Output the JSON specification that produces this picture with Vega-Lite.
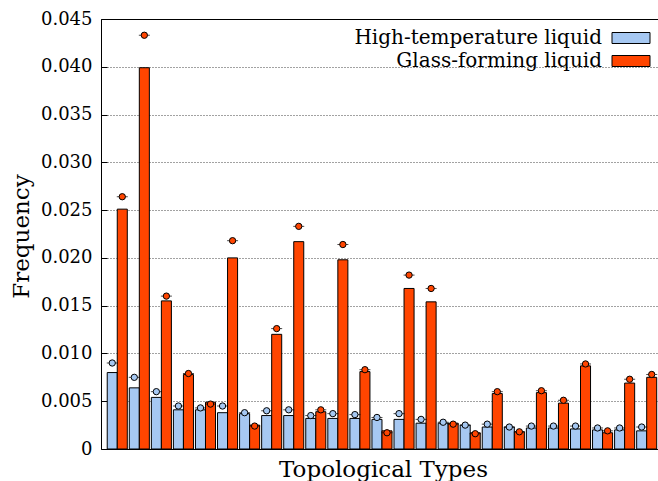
{
  "$schema": "https://vega.github.io/schema/vega-lite/v6.json",
  "width": 557,
  "height": 430,
  "autosize": "none",
  "padding": {"left": 101, "top": 19, "right": 0, "bottom": 32},
  "background": "white",
  "config": {
    "font": "DejaVu Serif",
    "view": {"stroke": null},
    "axis": {"labelFont": "DejaVu Serif", "titleFont": "DejaVu Serif", "titleFontWeight": "normal", "domainColor": "black", "tickColor": "black", "labelColor": "black", "titleColor": "black"},
    "legend": {"labelFont": "DejaVu Serif"}
  },
  "data": {
    "values": [
      {"type": 1, "series": "High-temperature liquid", "freq": 0.0080, "ref": 0.0090},
      {"type": 1, "series": "Glass-forming liquid", "freq": 0.0251, "ref": 0.0264},
      {"type": 2, "series": "High-temperature liquid", "freq": 0.0064, "ref": 0.0075},
      {"type": 2, "series": "Glass-forming liquid", "freq": 0.0399, "ref": 0.0433},
      {"type": 3, "series": "High-temperature liquid", "freq": 0.0054, "ref": 0.0060},
      {"type": 3, "series": "Glass-forming liquid", "freq": 0.0155, "ref": 0.0160},
      {"type": 4, "series": "High-temperature liquid", "freq": 0.0041, "ref": 0.0045},
      {"type": 4, "series": "Glass-forming liquid", "freq": 0.0078, "ref": 0.0079},
      {"type": 5, "series": "High-temperature liquid", "freq": 0.0041, "ref": 0.0043},
      {"type": 5, "series": "Glass-forming liquid", "freq": 0.0049, "ref": 0.0047},
      {"type": 6, "series": "High-temperature liquid", "freq": 0.0038, "ref": 0.0045},
      {"type": 6, "series": "Glass-forming liquid", "freq": 0.0200, "ref": 0.0218},
      {"type": 7, "series": "High-temperature liquid", "freq": 0.0037, "ref": 0.0038},
      {"type": 7, "series": "Glass-forming liquid", "freq": 0.0025, "ref": 0.0024},
      {"type": 8, "series": "High-temperature liquid", "freq": 0.0035, "ref": 0.0040},
      {"type": 8, "series": "Glass-forming liquid", "freq": 0.0120, "ref": 0.0126},
      {"type": 9, "series": "High-temperature liquid", "freq": 0.0035, "ref": 0.0041},
      {"type": 9, "series": "Glass-forming liquid", "freq": 0.0217, "ref": 0.0233},
      {"type": 10, "series": "High-temperature liquid", "freq": 0.0032, "ref": 0.0035},
      {"type": 10, "series": "Glass-forming liquid", "freq": 0.0039, "ref": 0.0041},
      {"type": 11, "series": "High-temperature liquid", "freq": 0.0032, "ref": 0.0037},
      {"type": 11, "series": "Glass-forming liquid", "freq": 0.0198, "ref": 0.0214},
      {"type": 12, "series": "High-temperature liquid", "freq": 0.0032, "ref": 0.0036},
      {"type": 12, "series": "Glass-forming liquid", "freq": 0.0081, "ref": 0.0083},
      {"type": 13, "series": "High-temperature liquid", "freq": 0.0031, "ref": 0.0033},
      {"type": 13, "series": "Glass-forming liquid", "freq": 0.0019, "ref": 0.0017},
      {"type": 14, "series": "High-temperature liquid", "freq": 0.0031, "ref": 0.0037},
      {"type": 14, "series": "Glass-forming liquid", "freq": 0.0168, "ref": 0.0182},
      {"type": 15, "series": "High-temperature liquid", "freq": 0.0027, "ref": 0.0031},
      {"type": 15, "series": "Glass-forming liquid", "freq": 0.0154, "ref": 0.0168},
      {"type": 16, "series": "High-temperature liquid", "freq": 0.0027, "ref": 0.0028},
      {"type": 16, "series": "Glass-forming liquid", "freq": 0.0027, "ref": 0.0026},
      {"type": 17, "series": "High-temperature liquid", "freq": 0.0025, "ref": 0.0025},
      {"type": 17, "series": "Glass-forming liquid", "freq": 0.0017, "ref": 0.0016},
      {"type": 18, "series": "High-temperature liquid", "freq": 0.0023, "ref": 0.0026},
      {"type": 18, "series": "Glass-forming liquid", "freq": 0.0058, "ref": 0.0060},
      {"type": 19, "series": "High-temperature liquid", "freq": 0.0023, "ref": 0.0023},
      {"type": 19, "series": "Glass-forming liquid", "freq": 0.0018, "ref": 0.0018},
      {"type": 20, "series": "High-temperature liquid", "freq": 0.0022, "ref": 0.0024},
      {"type": 20, "series": "Glass-forming liquid", "freq": 0.0059, "ref": 0.0061},
      {"type": 21, "series": "High-temperature liquid", "freq": 0.0022, "ref": 0.0024},
      {"type": 21, "series": "Glass-forming liquid", "freq": 0.0048, "ref": 0.0051},
      {"type": 22, "series": "High-temperature liquid", "freq": 0.0021, "ref": 0.0024},
      {"type": 22, "series": "Glass-forming liquid", "freq": 0.0087, "ref": 0.0089},
      {"type": 23, "series": "High-temperature liquid", "freq": 0.0020, "ref": 0.0022},
      {"type": 23, "series": "Glass-forming liquid", "freq": 0.0017, "ref": 0.0019},
      {"type": 24, "series": "High-temperature liquid", "freq": 0.0020, "ref": 0.0022},
      {"type": 24, "series": "Glass-forming liquid", "freq": 0.0069, "ref": 0.0073},
      {"type": 25, "series": "High-temperature liquid", "freq": 0.0019, "ref": 0.0023},
      {"type": 25, "series": "Glass-forming liquid", "freq": 0.0075, "ref": 0.0078}
    ]
  },
  "encoding": {
    "x": {
      "field": "type", "type": "ordinal",
      "scale": {"paddingInner": 0.0907, "paddingOuter": 0.17, "align": 0.83},
      "axis": {"labels": false, "ticks": false, "title": "Topological Types", "titleFontSize": 23, "titleX": 282, "titleY": 27, "titleBaseline": "alphabetic", "titleAlign": "center", "domainColor": "black", "grid": false}
    },
    "xOffset": {
      "field": "series", "type": "nominal",
      "scale": {"domain": ["High-temperature liquid", "Glass-forming liquid"], "paddingInner": 0, "paddingOuter": 0}
    }
  },
  "layer": [
    {
      "mark": {"type": "bar", "stroke": "black", "strokeWidth": 1},
      "encoding": {
        "y": {
          "field": "freq", "type": "quantitative",
          "scale": {"domain": [0, 0.045], "nice": false, "zero": true},
          "axis": {
            "title": "Frequency", "titleFontSize": 23, "titleX": -73, "titleY": 217, "titleBaseline": "alphabetic", "titleAlign": "center",
            "values": [0, 0.005, 0.01, 0.015, 0.02, 0.025, 0.03, 0.035, 0.04, 0.045],
            "labelExpr": "datum.value == 0 ? '0' : format(datum.value, '.3f')",
            "labelFontSize": 18, "labelPadding": 15, "tickSize": -6,
            "grid": true, "gridDash": [1, 2], "gridColor": "#444", "gridWidth": 1
          }
        },
        "fill": {
          "field": "series", "type": "nominal",
          "scale": {"domain": ["High-temperature liquid", "Glass-forming liquid"], "range": ["#a6c8f2", "#ff4500"]},
          "legend": {
            "orient": "none", "legendX": 520, "legendY": 9, "title": null,
            "symbolType": "M-3.8,-1.1H3.8V1.1H-3.8Z", "symbolSize": 100,
            "symbolStrokeColor": "black", "symbolStrokeWidth": 1, "symbolOpacity": 1,
            "labelAlign": "right", "labelOffset": -39, "labelFont": "DejaVu Serif", "labelFontSize": 20, "labelLimit": 400, "labelColor": "black",
            "rowPadding": 3, "padding": 0
          }
        }
      }
    },
    {
      "mark": {"type": "tick", "color": "black", "thickness": 1, "size": 11},
      "encoding": {
        "x": {"field": "type", "type": "ordinal", "axis": {"orient": "top", "labels": false, "ticks": false, "title": null, "domainColor": "black", "grid": false}},
        "y": {"field": "ref", "type": "quantitative"}
      }
    },
    {
      "mark": {"type": "point", "filled": true, "stroke": "black", "strokeWidth": 1, "size": 40, "opacity": 1},
      "encoding": {
        "x": {"field": "type", "type": "ordinal", "axis": null},
        "y": {"field": "ref", "type": "quantitative"},
        "color": {
          "field": "series", "type": "nominal",
          "scale": {"domain": ["High-temperature liquid", "Glass-forming liquid"], "range": ["#a6c8f2", "#ff4500"]},
          "legend": null
        }
      }
    }
  ],
  "resolve": {"axis": {"x": "independent"}}
}
